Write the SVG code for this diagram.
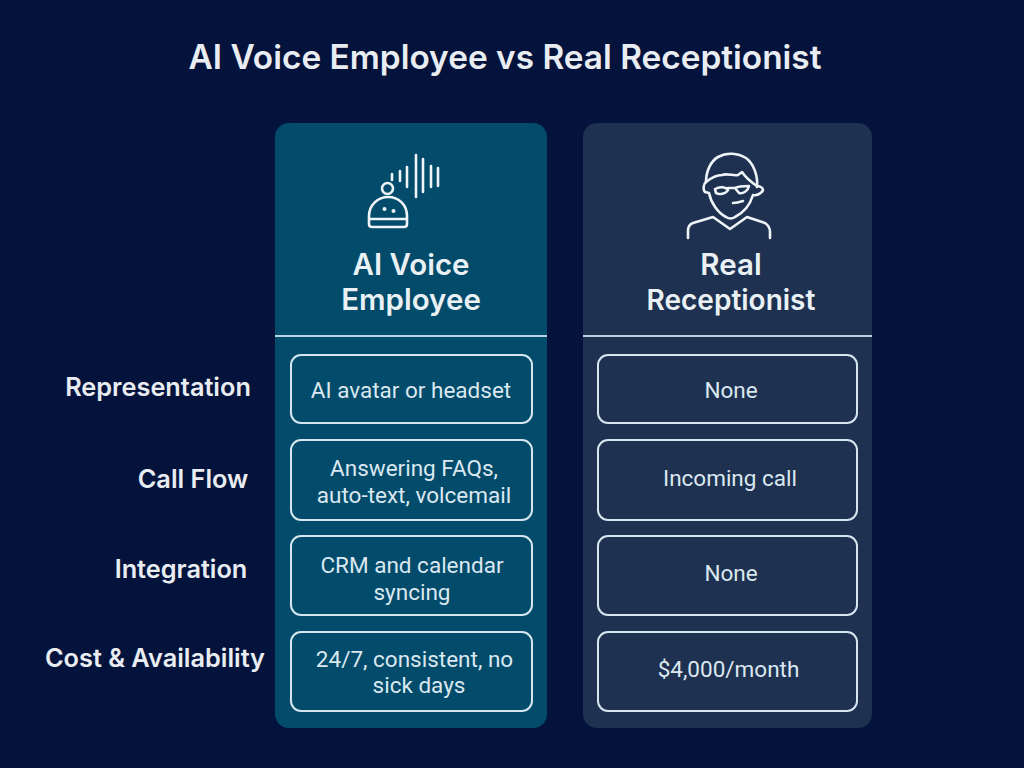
<svg xmlns="http://www.w3.org/2000/svg" width="1024" height="768" viewBox="0 0 1024 768">
<style>
text{text-anchor:middle}
.title{font-family:"Inter","Liberation Sans",sans-serif;font-size:33.400px;font-weight:600;fill:#e9edf2}
.head{font-family:"Inter","Liberation Sans",sans-serif;font-size:29.500px;font-weight:600;fill:#e9f1f5}
.row{font-family:"Inter","Liberation Sans",sans-serif;font-size:25.300px;font-weight:600;fill:#e9edf2}
.cell{font-family:"Roboto","Liberation Sans",sans-serif;font-size:22.500px;font-weight:400;fill:#dbe8f0}
.box{fill:none;stroke:#d5e6ef;stroke-width:2}
.line{stroke:#b9d3e2;stroke-width:2}
.icon{fill:none;stroke:#eef4f8;stroke-width:2.600;stroke-linecap:round;stroke-linejoin:round}
</style>
<rect width="1024" height="768" fill="#03133c"/>
<text class="title" x="505" y="69">AI Voice Employee vs Real Receptionist</text>
<g id="column-ai">
<rect x="275" y="123" width="272" height="605" rx="14" fill="#024b6b"/>
<g class="icon">
<circle cx="387.500" cy="188.500" r="5.500"/>
<path d="M369 224V216C369 205 378 197 388 197C399 197 407 205 407 216V224C407 226 406 227 404 227H372C370 227 369 226 369 224Z"/>
<path d="M370 219H406"/>
<path d="M392 174V180M400 171V181M407 167V187M416 155V197M423 159V192M431 166V187M438 168V186"/>
</g>
<circle cx="384.500" cy="209" r="2" fill="#eef4f8"/><circle cx="393.500" cy="211" r="2" fill="#eef4f8"/>
<text class="head" x="411" y="275">AI Voice</text>
<text class="head" x="411" y="310">Employee</text>
<path class="line" d="M275 336H547"/>
</g>
<g id="column-real">
<rect x="583" y="123" width="289" height="605" rx="14" fill="#1e3150"/>
<g class="icon">
<path d="M706 182C706 171 711 161 718 157C727 152 738 153 746 158C754 164 758 176 757 187"/>
<path d="M706 182C711 178 717 175 722 175C727 173 733 176 738 175L742 172C746 178 751 182 757 186"/>
<path d="M706 182C703 184 703 190 705 192L709 193C711 203 718 213 726 217C729 219 732 219 735 217C743 213 750 205 753 195C757 196 762 193 763 190C763 188 760 186 757 186"/>
<path d="M715 189C720 186 726 187 728 190C726 194 719 195 716 193ZM735 188C739 186 745 186 749 186C748 191 743 194 739 193ZM728 188L735 188"/>
<path d="M733 203C737 203 740 202 743 201"/>
<path d="M688 238V231C688 227 690 224 693 223L713 217L730 229L747 217L765 223C768 225 770 228 770 232V238"/>
</g>
<text class="head" x="731" y="275">Real</text>
<text class="head" x="731" y="310" style="font-size:28px">Receptionist</text>
<path class="line" d="M583 336H872"/>
</g>
<g id="row-labels">
<text class="row" x="158" y="396">Representation</text>
<text class="row" x="193" y="488">Call Flow</text>
<text class="row" x="181" y="578">Integration</text>
<text class="row" x="155" y="667">Cost &amp; Availability</text>
</g>
<g id="ai-cells">
<g id="ai-rep"><rect class="box" x="291" y="355" width="241" height="68" rx="10"/><text class="cell" x="411" y="398">AI avatar or headset</text></g>
<g id="ai-flow"><rect class="box" x="291" y="440" width="241" height="80" rx="10"/><text class="cell" x="414" y="476">Answering FAQs,</text><text class="cell" x="414" y="503">auto-text, volcemail</text></g>
<g id="ai-int"><rect class="box" x="291" y="536" width="241" height="79" rx="10"/><text class="cell" x="412" y="573">CRM and calendar</text><text class="cell" x="412" y="600">syncing</text></g>
<g id="ai-cost"><rect class="box" x="291" y="632" width="241" height="79" rx="10"/><text class="cell" x="414.500" y="667">24/7, consistent, no</text><text class="cell" x="419" y="693">sick days</text></g>
</g>
<g id="real-cells">
<g id="real-rep"><rect class="box" x="598" y="355" width="259" height="68" rx="10"/><text class="cell" x="731" y="398">None</text></g>
<g id="real-flow"><rect class="box" x="598" y="440" width="259" height="80" rx="10"/><text class="cell" x="730" y="486">Incoming call</text></g>
<g id="real-int"><rect class="box" x="598" y="536" width="259" height="79" rx="10"/><text class="cell" x="731" y="581">None</text></g>
<g id="real-cost"><rect class="box" x="598" y="632" width="259" height="79" rx="10"/><text class="cell" x="728.500" y="677">$4,000/month</text></g>
</g>
<g id="connectors"/>
</svg>
